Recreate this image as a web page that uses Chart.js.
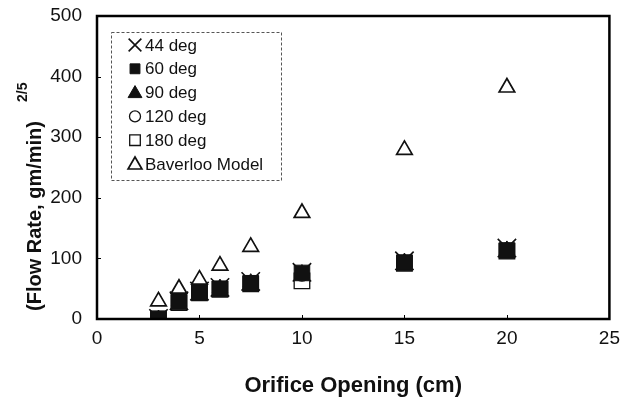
<!DOCTYPE html>
<html>
<head>
<meta charset="utf-8">
<script src="https://cdn.jsdelivr.net/npm/chart.js@4/dist/chart.umd.min.js"></script>
<style>
  html, body { margin: 0; padding: 0; background: #fff; }
  #wrap { position: relative; width: 624px; height: 405px; }
</style>
</head>
<body>
<div id="wrap"><canvas id="flowChart" width="624" height="405"></canvas></div>
<script>
// --- DATA ---
const openings  = [3, 4, 5, 6, 7.5, 10, 15, 20];
const deg44     = [1, 30, 46, 52, 62, 77, 96, 117];
const deg60     = [0, 28, 44, 50, 59, 76, 93, 113];
const deg90     = [0, 29, 45, 51, 60, 75, 94, 114];
const deg120    = [0, 29, 45, 50, 60, 74, 93, 114];
const deg180    = [0, 27, 43, 49, 58, 63, 92, 112];
const baverloo  = [29, 50, 65, 88, 119, 175, 279, 382];
const xTicks    = [0, 5, 10, 15, 20, 25];
const yTicks    = [0, 100, 200, 300, 400, 500];
const seriesLabels = ['44 deg', '60 deg', '90 deg', '120 deg', '180 deg', 'Baverloo Model'];

const FONT = '"Liberation Sans", Arial, Helvetica, sans-serif';

const pts = vals => openings.map((x, i) => ({ x: x, y: vals[i] }));

// marker look per series (plot size / legend size)
const markers = [
  { style: 'crossRot', r: 13, lr: 9, fill: 'transparent', bw: 1.6 },
  { style: 'rect',     r: 11, lr: 7, fill: '#111', bw: 1 },
  { style: 'triangle', r: 9, lr: 8, fill: '#111', bw: 1 },
  { style: 'circle',   r: 7, lr: 5.5, fill: '#fff', bw: 1.3 },
  { style: 'rect',     r: 11, lr: 7.5, fill: '#fff', bw: 1.3 },
  { style: 'triangle', r: 9, lr: 8, fill: '#fff', bw: 1.7 },
];
const seriesData = [deg44, deg60, deg90, deg120, deg180, baverloo];
// which series sits on top (lower = drawn later = on top)
const drawOrder = [5, 1, 2, 3, 4, 0];

// --- PLUGINS ---
// frame, inward tick marks and the x tick labels (drawn here so they don't squeeze the plot)
const frameAndTicks = {
  id: 'frameAndTicks',
  afterDatasetsDraw(chart) {
    const { ctx, chartArea: a, scales } = chart;
    ctx.save();
    ctx.strokeStyle = '#000';
    ctx.lineWidth = 1;
    xTicks.forEach(v => {
      const px = Math.round(scales.x.getPixelForValue(v)) + 0.5;
      ctx.beginPath(); ctx.moveTo(px, a.bottom); ctx.lineTo(px, a.bottom - 4); ctx.stroke();
    });
    yTicks.forEach(v => {
      const py = Math.round(scales.y.getPixelForValue(v)) + 0.5;
      ctx.beginPath(); ctx.moveTo(a.left, py); ctx.lineTo(a.left + 4, py); ctx.stroke();
    });
    ctx.lineWidth = 2.5;
    ctx.strokeRect(a.left, a.top, a.right - a.left, a.bottom - a.top);

    ctx.fillStyle = '#111';
    ctx.font = '19px ' + FONT;
    ctx.textAlign = 'center';
    ctx.textBaseline = 'middle';
    xTicks.forEach(v => ctx.fillText(String(v), scales.x.getPixelForValue(v), a.bottom + 20));
    ctx.restore();
  }
};

const yTitle = {
  id: 'yTitle',
  afterDraw(chart) {
    const { ctx } = chart;
    const main = '(Flow Rate, gm/min)';
    ctx.save();
    ctx.translate(35, 216);
    ctx.rotate(-Math.PI / 2);
    ctx.fillStyle = '#111';
    ctx.font = 'bold 20px ' + FONT;
    ctx.textBaseline = 'middle';
    ctx.textAlign = 'center';
    const w = ctx.measureText(main).width;
    ctx.fillText(main, 0, 0);
    ctx.font = 'bold 14px ' + FONT;
    ctx.textAlign = 'left';
    ctx.fillText('2/5', w / 2 + 19, -12);
    ctx.restore();
  }
};

const boxLegend = {
  id: 'boxLegend',
  afterDraw(chart) {
    const { ctx } = chart;
    const bx = 111, by = 32, bw = 170, bh = 148;
    ctx.save();
    ctx.strokeStyle = '#555';
    ctx.lineWidth = 1;
    ctx.setLineDash([3, 2]);
    ctx.strokeRect(bx + 0.5, by + 0.5, bw, bh);
    ctx.setLineDash([]);
    ctx.font = '17px ' + FONT;
    ctx.textBaseline = 'middle';
    ctx.textAlign = 'left';
    seriesLabels.forEach((label, i) => {
      const y = 45 + i * 23.8;
      const m = markers[i];
      ctx.fillStyle = m.fill;
      ctx.strokeStyle = '#111';
      ctx.lineWidth = m.bw;
      Chart.helpers.drawPoint(ctx, { pointStyle: m.style, radius: m.lr, rotation: 0, borderWidth: m.bw }, 135, y + (m.style === 'triangle' ? 1 : 0));
      ctx.fillStyle = '#111';
      ctx.fillText(label, 145, y + 1);
    });
    ctx.restore();
  }
};

// --- CHART ---
const datasets = seriesLabels.map((label, i) => ({
  label: label,
  data: pts(seriesData[i]),
  pointStyle: markers[i].style,
  pointRadius: markers[i].r,
  pointHoverRadius: markers[i].r,
  pointBackgroundColor: markers[i].fill,
  pointBorderColor: '#111',
  pointBorderWidth: markers[i].bw,
  showLine: false,
  order: drawOrder[i],
}));

new Chart(document.getElementById('flowChart').getContext('2d'), {
  type: 'scatter',
  data: { datasets: datasets },
  options: {
    responsive: false,
    animation: false,
    layout: { padding: { left: 0, top: 16, right: 10, bottom: 0 } },
    plugins: { legend: { display: false }, tooltip: { enabled: false } },
    scales: {
      x: {
        type: 'linear',
        min: 0, max: 25,
        afterFit: s => { s.height = 86; s.paddingLeft = 0; s.paddingRight = 0; },
        afterBuildTicks: s => { s.ticks = xTicks.map(v => ({ value: v })); },
        grid: { display: false, drawTicks: false },
        border: { display: false },
        ticks: { display: false },
        title: { display: true, text: 'Orifice Opening (cm)', color: '#111',
                 font: { family: FONT, size: 22, weight: 'bold' }, padding: { top: 0, bottom: 6 } },
      },
      y: {
        type: 'linear',
        min: 0, max: 500,
        afterFit: s => { s.width = 97; s.paddingTop = 0; s.paddingBottom = 0; },
        afterBuildTicks: s => { s.ticks = yTicks.map(v => ({ value: v })); },
        grid: { display: false, drawTicks: false },
        border: { display: false },
        ticks: { color: '#111', font: { family: FONT, size: 19 }, padding: 15 },
      },
    },
  },
  plugins: [frameAndTicks, yTitle, boxLegend],
});
</script>
</body>
</html>
